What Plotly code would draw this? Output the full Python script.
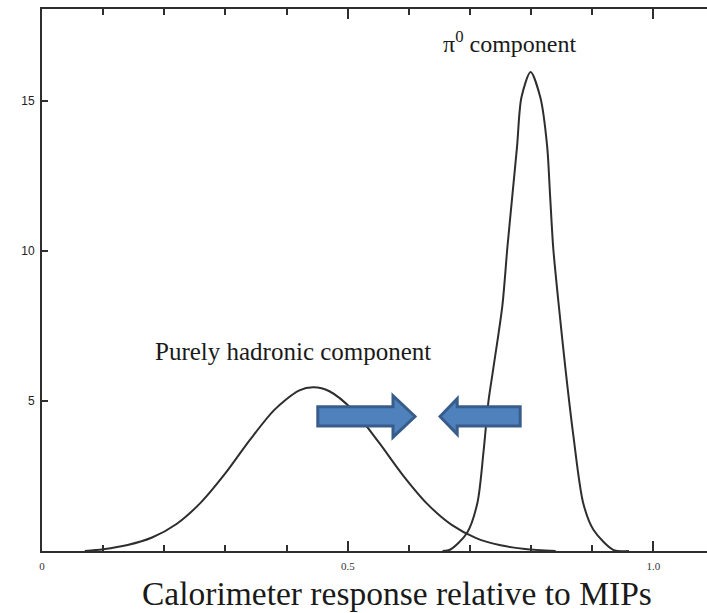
import plotly.graph_objects as go

# Purely hadronic component
had_x = [0.07, 0.10, 0.14, 0.18, 0.22, 0.26, 0.30, 0.34, 0.38, 0.42, 0.444,
         0.47, 0.51, 0.55, 0.59, 0.63, 0.67, 0.71, 0.75, 0.79, 0.84]
had_y = [0.0, 0.06, 0.2, 0.45, 0.9, 1.62, 2.59, 3.7, 4.7, 5.34, 5.45,
         5.32, 4.66, 3.64, 2.53, 1.57, 0.87, 0.43, 0.19, 0.07, 0.0]

# pi0 component
pi_x = [0.655, 0.668, 0.695, 0.712, 0.722, 0.73, 0.738, 0.753, 0.761, 0.769, 0.777, 0.784,
        0.799, 0.815, 0.826, 0.831, 0.836, 0.845, 0.856, 0.869, 0.885, 0.902, 0.935, 0.96]
pi_y = [0.0, 0.05, 0.6, 1.6, 3.3, 4.97, 6.07, 8.2, 10.1, 11.8, 13.5, 15.1,
        15.95, 15.1, 13.5, 11.8, 10.1, 8.2, 6.07, 3.83, 1.6, 0.7, 0.03, 0.0]

x_tickvals = [0, 0.5, 1.0]
x_ticktext = ["0", "0.5", "1.0"]
y_tickvals = [5, 10, 15]
y_ticktext = ["5", "10", "15"]

line_col = "#2e2e2e"

fig = go.Figure()
fig.add_trace(go.Scatter(x=had_x, y=had_y, mode="lines",
                         line=dict(color=line_col, width=2, shape="spline", smoothing=0.8),
                         showlegend=False, hoverinfo="skip"))
fig.add_trace(go.Scatter(x=pi_x, y=pi_y, mode="lines",
                         line=dict(color=line_col, width=2, shape="spline", smoothing=0.8),
                         showlegend=False, hoverinfo="skip"))

# block arrows (data coordinates)
def arrow_right(x0, xh, xt, yc, hs, hh):
    return (f"M {x0},{yc-hs} L {xh},{yc-hs} L {xh},{yc-hh} L {xt},{yc} "
            f"L {xh},{yc+hh} L {xh},{yc+hs} L {x0},{yc+hs} Z")

fill = "#4F81BD"
edge = "#385D8A"
fig.add_shape(type="path", xref="x", yref="y",
              path=arrow_right(0.451, 0.574, 0.610, 4.48, 0.32, 0.69),
              fillcolor=fill, line=dict(color=edge, width=3))
fig.add_shape(type="path", xref="x", yref="y",
              path=arrow_right(0.782, 0.679, 0.651, 4.48, 0.32, 0.59),
              fillcolor=fill, line=dict(color=edge, width=3))

serif = "Liberation Serif, Times New Roman, serif"
fig.add_annotation(x=0.765, y=16.95, xref="x", yref="y", text="π<sup>0</sup> component",
                   showarrow=False, font=dict(family=serif, size=24, color="#1a1a1a"))
fig.add_annotation(x=0.41, y=6.64, xref="x", yref="y", text="Purely hadronic component",
                   showarrow=False, font=dict(family=serif, size=25, color="#1a1a1a"))
fig.add_annotation(x=0.581, y=0, xref="x", yref="paper", yanchor="middle", yshift=-42,
                   text="Calorimeter response relative to MIPs",
                   showarrow=False, font=dict(family=serif, size=33.5, color="#1a1a1a"))

fig.update_layout(
    width=707, height=613,
    margin=dict(l=42, r=0, t=9, b=62),
    paper_bgcolor="white", plot_bgcolor="white",
    xaxis=dict(range=[0, 1.0875], showgrid=False, zeroline=False,
               showline=True, linecolor=line_col, linewidth=2, mirror="ticks",
               ticks="inside", ticklen=10, tickwidth=1.5, tickcolor=line_col,
               tickvals=x_tickvals, ticktext=x_ticktext, ticklabelstandoff=4,
               minor=dict(dtick=0.1, tick0=0, ticks="inside", ticklen=6, tickcolor=line_col, showgrid=False),
               tickfont=dict(family=serif, size=11, color="#333333")),
    yaxis=dict(range=[0, 18.05], showgrid=False, zeroline=False,
               showline=True, linecolor=line_col, linewidth=2,
               ticks="inside", ticklen=6, tickwidth=1.5, tickcolor=line_col,
               tickvals=y_tickvals, ticktext=y_ticktext, ticklabelstandoff=3,
               tickfont=dict(family="Liberation Sans, Arial, sans-serif", size=12, color="#222222")),
)

fig.write_html("out.html")
